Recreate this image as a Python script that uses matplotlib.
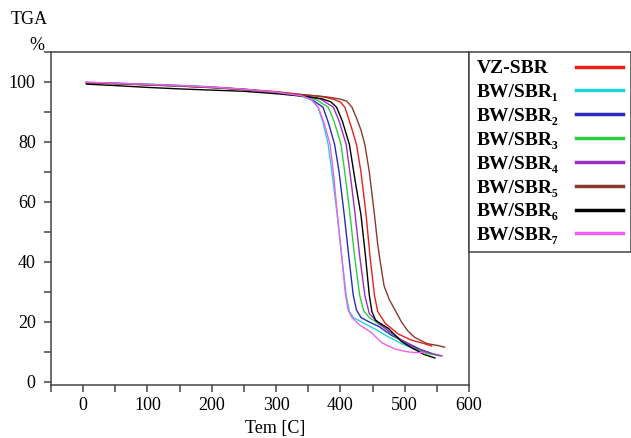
import matplotlib
matplotlib.use('Agg')
import matplotlib.pyplot as plt
from matplotlib.ticker import MultipleLocator

plt.rcParams['font.family'] = ['Liberation Serif', 'DejaVu Serif']

# TGA curves: temperature [C] and mass [%]
labels = ['VZ-SBR', 'BW/SBR₁', 'BW/SBR₂', 'BW/SBR₃', 'BW/SBR₄', 'BW/SBR₅', 'BW/SBR₆', 'BW/SBR₇']
colors = ['#e8201e', '#22d3d8', '#2a2ab8', '#2ecc40', '#9b30c0', '#8b3a2a', '#000000', '#f060f0']

t_vz = [5, 50, 100, 150, 200, 250, 300, 340, 370, 390, 400, 407, 417, 425, 432, 440, 446, 453,
        458, 470, 490, 510, 530, 542]
w_vz = [99.8, 99.5, 99.1, 98.7, 98.2, 97.6, 96.8, 95.8, 95.2, 94.2, 93.3, 91.6, 85, 79.2, 70,
        55.7, 42, 28.9, 23.5, 19.5, 16.0, 14.0, 12.8, 12.0]

t_bw1 = [5, 50, 100, 150, 200, 250, 300, 340, 355, 365, 373, 381, 388, 395, 402, 409, 414, 420,
         435, 455, 475, 495, 515, 537]
w_bw1 = [99.8, 99.6, 99.3, 98.9, 98.4, 97.6, 96.5, 95.2, 94.0, 91.6, 86.5, 79.2, 68, 55.7, 42,
         28.9, 23.5, 21.5, 19.8, 17.5, 15.0, 12.8, 11.0, 9.8]

t_bw2 = [5, 50, 100, 150, 200, 250, 300, 340, 350, 360, 373, 382, 391, 398, 406, 413, 420, 425,
         432, 445, 460, 480, 506, 525, 540]
w_bw2 = [99.8, 99.5, 99.1, 98.7, 98.2, 97.5, 96.5, 95.5, 94.8, 93.5, 91.6, 86, 79.2, 70, 55.7,
         42, 28.9, 24, 21.5, 20, 18.5, 15.5, 12.8, 10.8, 9.7]

t_bw3 = [5, 50, 100, 150, 200, 250, 300, 340, 350, 365, 381, 390, 401, 408, 415, 422, 430, 436,
         445, 469, 490, 511, 535, 555]
w_bw3 = [99.8, 99.5, 99.1, 98.7, 98.2, 97.5, 96.5, 95.5, 95.0, 93.8, 91.6, 87, 79.2, 68, 55.7,
         42, 28.9, 23.8, 21.5, 18, 14.5, 11.4, 9.5, 8.7]

t_bw4 = [5, 50, 100, 150, 200, 250, 300, 340, 350, 370, 389, 398, 409, 416, 423, 430, 438, 445,
         460, 475, 495, 516, 540, 558]
w_bw4 = [99.9, 99.6, 99.2, 98.8, 98.3, 97.6, 96.6, 95.6, 95.2, 94.2, 91.6, 87, 79.2, 68, 55.7,
         42, 28.9, 22.8, 19.5, 17, 14, 11.4, 9.6, 8.7]

t_bw5 = [5, 50, 100, 150, 200, 250, 300, 340, 380, 400, 410, 418, 425, 432, 438, 445, 453, 458,
         462, 468, 476, 485, 495, 505, 516, 535, 553, 562]
w_bw5 = [99.7, 99.4, 99.0, 98.6, 98.1, 97.5, 96.6, 95.8, 95.0, 94.3, 93.6, 91.6, 88, 84, 79.2,
         70, 55.7, 46, 40, 32, 27.5, 24, 20, 17, 14.8, 12.8, 12.1, 11.6]

t_bw6 = [5, 50, 100, 150, 200, 250, 300, 340, 370, 385, 394, 403, 414, 423, 432, 439, 445, 449,
         455, 475, 495, 511, 530, 547]
w_bw6 = [99.3, 98.8, 98.2, 97.7, 97.3, 96.9, 96.1, 95.3, 94.5, 93.4, 91.6, 87, 79.2, 67, 55.7,
         42, 28.9, 23.5, 20.5, 17.8, 13.5, 11.4, 9.2, 8.0]

t_bw7 = [5, 50, 100, 150, 200, 250, 300, 340, 355, 366, 375, 384, 390, 395, 402, 408, 412, 418,
         430, 448, 465, 485, 500, 516, 530]
w_bw7 = [99.9, 99.6, 99.2, 98.8, 98.3, 97.6, 96.6, 95.4, 94.2, 91.5, 86, 79.2, 68, 56.5, 42, 29,
         24, 21.5, 19, 16.5, 13, 11, 10.2, 9.8, 9.8]

temps = [t_vz, t_bw1, t_bw2, t_bw3, t_bw4, t_bw5, t_bw6, t_bw7]
masses = [w_vz, w_bw1, w_bw2, w_bw3, w_bw4, w_bw5, w_bw6, w_bw7]

fig = plt.figure(figsize=(6.31, 4.38), dpi=100)
ax = fig.add_axes([51 / 631, 1 - 385 / 438, 418 / 631, 333 / 438])

for t, w, c, lab in zip(temps, masses, colors, labels):
    ax.plot(t, w, color=c, lw=1.0, label=lab)

ax.set_xlim(-50, 600)
ax.set_ylim(-1, 110)
ax.xaxis.set_major_locator(MultipleLocator(100))
ax.xaxis.set_minor_locator(MultipleLocator(50))
ax.yaxis.set_major_locator(MultipleLocator(20))
ax.yaxis.set_minor_locator(MultipleLocator(10))
ax.tick_params(which='both', direction='out', length=5, width=1.1, color='#444444',
               labelsize=13)
ax.tick_params(axis='y', pad=6)
ax.tick_params(axis='x', pad=4)
for s in ax.spines.values():
    s.set_color('#444444')
    s.set_linewidth(1.1)

leg = ax.legend(bbox_to_anchor=(1, 1), loc='upper left', borderaxespad=0, markerfirst=False,
                fancybox=False, edgecolor='#444444', framealpha=1, handlelength=2.4,
                handletextpad=0.6, labelspacing=0.32, borderpad=0.4,
                prop={'family': ['Liberation Serif', 'DejaVu Serif'], 'weight': 'bold', 'size': 14})
leg.get_frame().set_linewidth(1.1)
for ln in leg.get_lines():
    ln.set_linewidth(2.5)
# text on the left, line pushed to the right edge of each row
for col in leg._legend_handle_box.get_children():
    col.width = 146
    col.align = 'left'
    for row in col.get_children():
        row.mode = 'expand'

fig.text(29 / 631, 1 - 19 / 438, 'TGA', ha='center', va='center', fontsize=13)
fig.text(37 / 631, 1 - 46 / 438, '%', ha='center', va='center', fontsize=13)
fig.text(275 / 631, 1 - 428 / 438, 'Tem [C]', ha='center', va='center', fontsize=13)

fig.savefig('out.png', dpi=100)
